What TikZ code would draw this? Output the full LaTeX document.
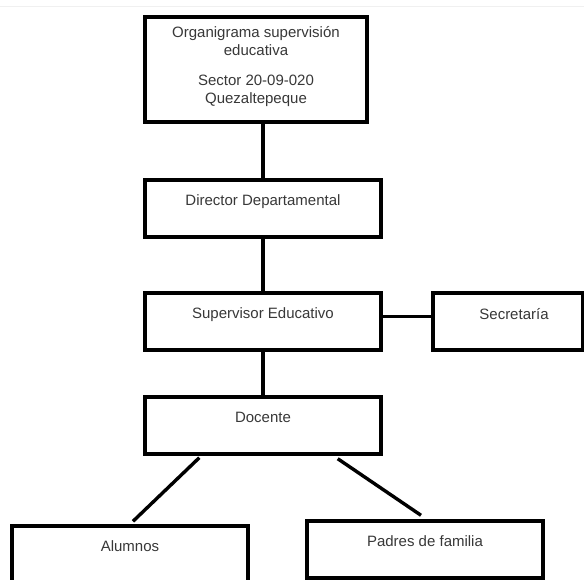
\documentclass[tikz,border=0pt]{standalone}
\usepackage{fontspec}
\setmainfont{Liberation Sans}
\begin{document}
\begin{tikzpicture}[x=1pt,y=-1pt,
  box/.style={draw=black,line width=3.4pt,minimum width=236pt,minimum height=57pt,inner sep=0pt},
  txt/.style={inner sep=0pt,text=black!78,font=\fontsize{15}{18}\selectfont},
  link/.style={draw=black,line width=3.4pt}]
\useasboundingbox (0,0) rectangle (584,580);
\clip (0,0) rectangle (584,580);
\fill[white] (0,0) rectangle (584,580);
\draw[black!6,line width=1pt] (0,7) -- (584,7);
% boxes
\node[box,minimum width=222pt,minimum height=105pt] (top) at (256,69.5) {};
\node[box] (dir) at (263,208.5) {};
\node[box] (sup) at (263,321.5) {};
\node[box,minimum width=150pt] (sec) at (508,321.5) {};
\node[box] (doc) at (263,425.5) {};
\node[box] (alu) at (130,554.5) {};
\node[box] (pad) at (425,549.5) {};
% texts
\node[txt,align=center] (ttop) at (256,67) {Organigrama supervisión\\educativa\\[12pt]Sector 20-09-020\\Quezaltepeque};
\node[txt] (tdir) at ([yshift=-23pt]dir.north) {Director Departamental};
\node[txt] (tsup) at ([yshift=-23pt]sup.north) {Supervisor Educativo};
\node[txt] (tsec) at ([xshift=6pt,yshift=-23pt]sec.north) {Secretaría};
\node[txt] (tdoc) at ([yshift=-22pt]doc.north) {Docente};
\node[txt] (talu) at ([yshift=-22pt]alu.north) {Alumnos};
\node[txt] (tpad) at ([yshift=-22pt]pad.north) {Padres de familia};
% connectors
\draw[link] (top.south -| dir.north) -- (dir.north);
\draw[link] (dir.south) -- (sup.north);
\draw[link] ([yshift=5pt]sup.east) -- ([yshift=5pt]sec.west);
\draw[link] (sup.south) -- (doc.north);
\draw[link] ([xshift=56pt,yshift=-2pt]doc.south west) -- ([xshift=3pt,yshift=3pt]alu.north);
\draw[link] ([xshift=-45pt,yshift=-3pt]doc.south east) -- ([xshift=-4pt,yshift=4pt]pad.north);
\end{tikzpicture}
\end{document}
